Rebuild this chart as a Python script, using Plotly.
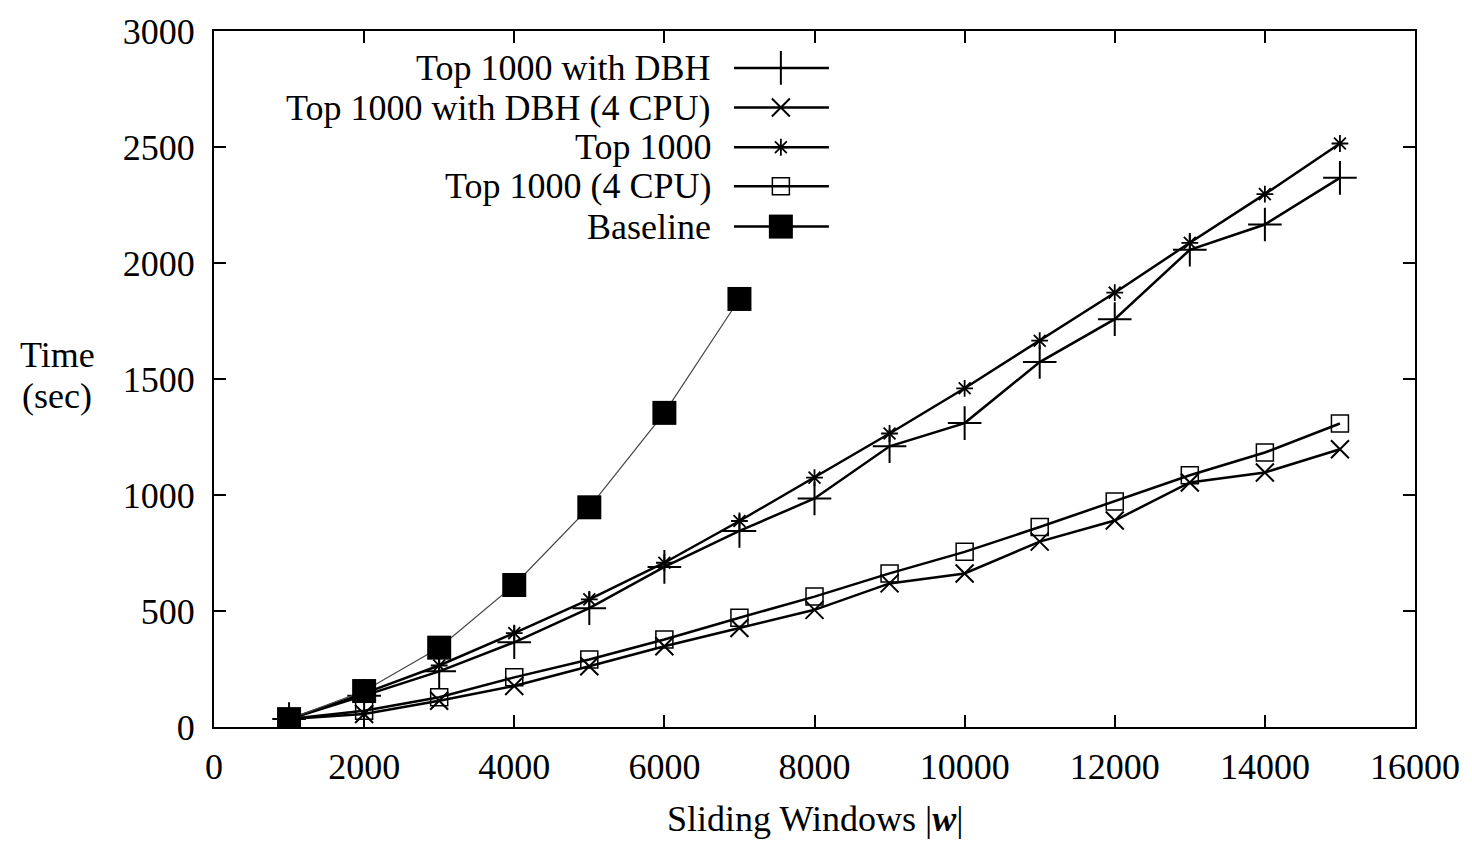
import plotly.graph_objects as go

x_vals = [1000, 2000, 3000, 4000, 5000, 6000, 7000, 8000, 9000, 10000, 11000, 12000, 13000, 14000, 15000]
top_dbh = [34, 135, 240, 365, 512, 690, 845, 985, 1210, 1310, 1573, 1758, 2057, 2166, 2367]
top_dbh_4cpu = [34, 56, 113, 177, 262, 348, 427, 505, 619, 662, 799, 890, 1054, 1097, 1197]
top = [34, 145, 265, 405, 550, 708, 888, 1075, 1265, 1460, 1665, 1872, 2087, 2297, 2515]
top_4cpu = [34, 70, 128, 214, 291, 377, 471, 562, 662, 755, 862, 972, 1085, 1183, 1308]
baseline_x = [1000, 2000, 3000, 4000, 5000, 6000, 7000]
baseline = [34, 155, 342, 612, 947, 1354, 1845]

names = ["Top 1000 with DBH", "Top 1000 with DBH (4 CPU)", "Top 1000", "Top 1000 (4 CPU)", "Baseline"]
symbols = ["cross-thin-open", "x-thin-open", "asterisk-open", "square-open", "square"]
sizes = [24, 18, 14, 17, 24]
line_widths = [2.5, 2.5, 2.5, 2.5, 1.2]
line_colors = ["black", "black", "black", "black", "#444444"]
marker_lw = [2, 2, 1.8, 1.5, 0]

x_ticks = [0, 2000, 4000, 6000, 8000, 10000, 12000, 14000, 16000]
y_ticks = [0, 500, 1000, 1500, 2000, 2500, 3000]

series_x = [x_vals, x_vals, x_vals, x_vals, baseline_x]
series_y = [top_dbh, top_dbh_4cpu, top, top_4cpu, baseline]

FONT = "Liberation Serif"
FS = 36

fig = go.Figure()
for i in range(5):
    fig.add_trace(go.Scatter(
        x=series_x[i], y=series_y[i], mode="lines+markers", name=names[i],
        line=dict(color=line_colors[i], width=line_widths[i]),
        marker=dict(symbol=symbols[i], size=sizes[i], color="black",
                    line=dict(color="black", width=marker_lw[i])),
        showlegend=False))

# custom legend (text right-aligned, sample on the right), gnuplot style
leg_rows = [0.947, 0.890, 0.833, 0.777, 0.719]
leg_line = [0.433, 0.512]
leg_mark = 0.472
leg_text_x = 0.4156
for i in range(5):
    fig.add_trace(go.Scatter(
        x=leg_line, y=[leg_rows[i]] * 2, mode="lines", xaxis="x2", yaxis="y2",
        line=dict(color="black", width=2.5), showlegend=False, hoverinfo="skip"))
    fig.add_trace(go.Scatter(
        x=[leg_mark], y=[leg_rows[i]], mode="markers", xaxis="x2", yaxis="y2",
        marker=dict(symbol=symbols[i], size=sizes[i], color="black",
                    line=dict(color="black", width=marker_lw[i])),
        showlegend=False, hoverinfo="skip"))
    fig.add_annotation(x=leg_text_x, y=leg_rows[i], xref="paper", yref="paper",
                       text=names[i], showarrow=False, xanchor="right", yanchor="middle",
                       font=dict(family=FONT, size=FS, color="black"))

axis_common = dict(showgrid=False, zeroline=False, ticks="inside", ticklen=12, tickwidth=1.5,
                   tickcolor="black", showline=True, linecolor="black", linewidth=2,
                   mirror="ticks", tickfont=dict(family=FONT, size=FS, color="black"))

fig.update_layout(
    width=1472, height=845,
    margin=dict(l=214, r=55, t=23, b=118),
    plot_bgcolor="white", paper_bgcolor="white",
    xaxis=dict(range=[0, 16000], tickvals=x_ticks, ticktext=[str(v) for v in x_ticks],
               ticklabelstandoff=7, **axis_common),
    yaxis=dict(range=[0, 3000], tickvals=y_ticks, ticktext=[str(v) for v in y_ticks],
               ticklabelstandoff=10, **axis_common),
    xaxis2=dict(range=[0, 1], overlaying="x", visible=False),
    yaxis2=dict(range=[0, 1], overlaying="y", visible=False),
    showlegend=False,
)

fig.add_annotation(x=0.5, y=-0.164, xref="paper", yref="paper",
                   text="Sliding Windows |<b><i>w</i></b>|", showarrow=False,
                   xanchor="center", yanchor="bottom",
                   font=dict(family=FONT, size=FS, color="black"))
fig.add_annotation(x=-0.1305, y=0.535, xref="paper", yref="paper",
                   text="Time", showarrow=False, xanchor="center", yanchor="middle",
                   font=dict(family=FONT, size=FS, color="black"))
fig.add_annotation(x=-0.1305, y=0.475, xref="paper", yref="paper",
                   text="(sec)", showarrow=False, xanchor="center", yanchor="middle",
                   font=dict(family=FONT, size=FS, color="black"))

fig.write_html("out.html", config={"displayModeBar": False},
               post_script="document.body.style.margin='0px';document.body.style.overflow='hidden';")
